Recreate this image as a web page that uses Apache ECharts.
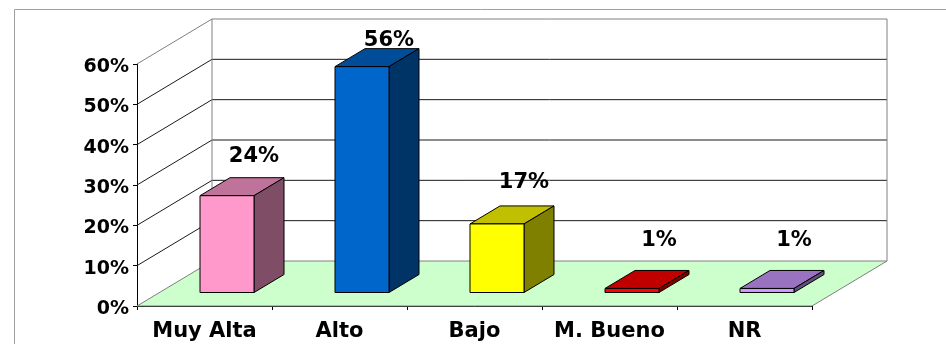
<!DOCTYPE html>
<html>
<head>
<meta charset="utf-8">
<script src="https://cdn.jsdelivr.net/npm/echarts@6/dist/echarts.min.js"></script>
<style>html,body{margin:0;padding:0;background:#fff;}#c{width:946px;height:344px;}</style>
</head>
<body>
<div id="c"></div>
<script>
// ---- data ----
const categories = ['Muy Alta', 'Alto', 'Bajo', 'M. Bueno', 'NR'];
const values = [24, 56, 17, 1, 1];
const valueLabels = ['24%', '56%', '17%', '1%', '1%'];
const yTicks = [0, 10, 20, 30, 40, 50, 60];
const yTickLabels = ['0%', '10%', '20%', '30%', '40%', '50%', '60%'];

// ---- styles ----
const frontColors = ['#FF99CC', '#0066CC', '#FFFF00', '#FF0000', '#CC99FF'];
const topColors   = ['#C0739A', '#004C99', '#C0C000', '#C00000', '#9973C0'];
const sideColors  = ['#804D66', '#003366', '#808000', '#800000', '#664D80'];
const DEPTH = [75, -45];
const FONT = 'DejaVu Sans';

const chart = echarts.init(document.getElementById('c'), null, {renderer: 'canvas'});

function wallItem(params, api) {
  const bw = api.size([1, 0])[0];
  const x0 = api.coord([0, 0])[0] - bw / 2;
  const x1 = api.coord([categories.length - 1, 0])[0] + bw / 2;
  const y0 = api.coord([0, 0])[1];
  const yTop = api.coord([0, yTicks[yTicks.length - 1]])[1];
  const dx = DEPTH[0], dy = DEPTH[1];
  const ch = [];
  // floor
  ch.push({type: 'polygon', shape: {points: [[x0, y0], [x1, y0], [x1 + dx, y0 + dy], [x0 + dx, y0 + dy]]},
    style: {fill: '#CCFFCC', stroke: '#808080', lineWidth: 1}});
  // gridlines on side and back walls
  yTicks.forEach(function (v, i) {
    const y = api.coord([0, v])[1];
    ch.push({type: 'text', x: x0 - 8, y: y + 3,
      style: {text: yTickLabels[i], font: 'bold 19px "' + FONT + '"', fill: '#000', align: 'right', verticalAlign: 'middle'}});
    if (v === yTicks[0] || v === yTicks[yTicks.length - 1]) return;
    ch.push({type: 'polyline', shape: {points: [[x0, y], [x0 + dx, y + dy], [x1 + dx, y + dy]]},
      style: {stroke: '#1a1a1a', lineWidth: 1, fill: null}});
  });
  // outline of walls
  ch.push({type: 'polyline', shape: {points: [[x0, yTop], [x0 + dx, yTop + dy], [x1 + dx, yTop + dy], [x1 + dx, y0 + dy]]},
    style: {stroke: '#808080', lineWidth: 1, fill: null}});
  ch.push({type: 'line', shape: {x1: x0 + dx, y1: yTop + dy, x2: x0 + dx, y2: y0 + dy},
    style: {stroke: '#808080', lineWidth: 1}});
  return {type: 'group', children: ch};
}

function barItem(params, api) {
  const idx = api.value(0);
  const v = api.value(1);
  const bw = api.size([1, 0])[0];
  const barW = bw / 2.5;
  const base = api.coord([idx, 0]);
  const top = api.coord([idx, v]);
  const fx = DEPTH[0] * 0.3, fy = DEPTH[1] * 0.3;
  const bx = DEPTH[0] * 0.7, by = DEPTH[1] * 0.7;
  const xl = base[0] - barW / 2, xr = base[0] + barW / 2;
  const yb = base[1], yt = top[1];
  const i = params.dataIndex;
  const lab = api.coord([idx, v * 0.9 + 12]);
  return {type: 'group', children: [
    {type: 'polygon', shape: {points: [[xl + fx, yt + fy], [xr + fx, yt + fy], [xr + bx, yt + by], [xl + bx, yt + by]]},
      style: {fill: topColors[i], stroke: '#000', lineWidth: 1}},
    {type: 'polygon', shape: {points: [[xr + fx, yt + fy], [xr + bx, yt + by], [xr + bx, yb + by], [xr + fx, yb + fy]]},
      style: {fill: sideColors[i], stroke: '#000', lineWidth: 1}},
    {type: 'rect', shape: {x: xl + fx, y: yt + fy, width: barW, height: yb - yt},
      style: {fill: frontColors[i], stroke: '#000', lineWidth: 1}},
    {type: 'text', x: base[0] + bx - 3, y: lab[1] + fy,
      style: {text: valueLabels[i], font: 'bold 21px "' + FONT + '"', fill: '#000', align: 'center', verticalAlign: 'middle'}}
  ]};
}

const option = {
  animation: false,
  backgroundColor: '#fff',
  graphic: [{type: 'rect', left: 12, top: 7, shape: {width: 1000, height: 400},
    style: {fill: null, stroke: '#A0A0A0', lineWidth: 1}, z: 0}],
  grid: {left: 137, right: 134, top: 64, bottom: 38},
  xAxis: {
    type: 'category', data: categories,
    axisLine: {lineStyle: {color: '#000', width: 1}},
    axisTick: {show: true, length: 4, lineStyle: {color: '#000'}},
    axisLabel: {interval: 0, fontFamily: FONT, fontWeight: 'bold', fontSize: 21, color: '#000', margin: 15}
  },
  yAxis: {
    type: 'value', min: 0, max: 60, interval: 10,
    axisLine: {show: true, lineStyle: {color: '#000', width: 1}},
    axisTick: {show: true, length: 4, lineStyle: {color: '#000'}},
    splitLine: {show: false},
    axisLabel: {show: false}
  },
  series: [
    {type: 'custom', renderItem: wallItem, data: [[0, 0]], z: 1, silent: true},
    {type: 'custom', renderItem: barItem, data: values.map(function (v, i) { return [i, v]; }), z: 3, silent: true}
  ]
};
chart.setOption(option);
</script>
</body>
</html>
